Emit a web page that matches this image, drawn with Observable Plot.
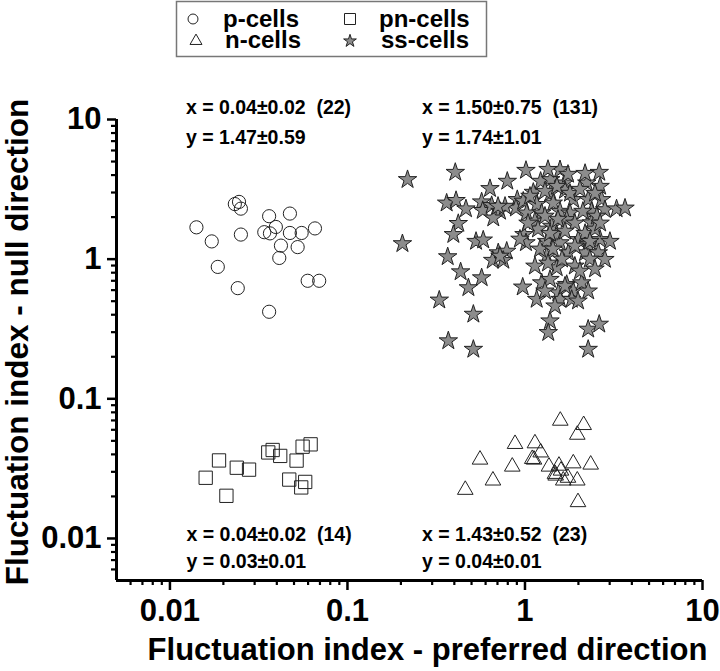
<!DOCTYPE html>
<html>
<head>
<meta charset="utf-8">
<script src="https://cdn.jsdelivr.net/npm/d3@7"></script>
<script src="https://cdn.jsdelivr.net/npm/@observablehq/plot@0.6"></script>
<style>
  body { margin: 0; background: #fff; font-family: "Liberation Sans", Arial, Helvetica, sans-serif; }
  #wrap { width: 720px; height: 671px; overflow: hidden; background: #fff; }
  #legend { width: 720px; height: 60px; display: block; }
  #chart svg { display: block; }
</style>
</head>
<body>
<div id="wrap">
  <div id="legendBox"></div>
  <div id="chart"></div>
</div>
<script>
// ---------- data ----------
const categories = ["p-cells", "pn-cells", "n-cells", "ss-cells"];
const symbols = ["circle", "square", "triangle", "star"];

const pX = [0.0141, 0.0172, 0.0186, 0.0232, 0.0245, 0.0251, 0.0251, 0.0241, 0.0362, 0.0395, 0.0340,
            0.0366, 0.0474, 0.0474, 0.0552, 0.0656, 0.0422, 0.0524, 0.0413, 0.0597, 0.0693, 0.0362];
const pY = [1.69, 1.34, 0.88, 2.48, 2.57, 2.30, 1.50, 0.62, 2.03, 1.70, 1.56,
            1.53, 2.12, 1.54, 1.54, 1.66, 1.25, 1.22, 1.02, 0.70, 0.70, 0.42];

const pnX = [0.0159, 0.0189, 0.0208, 0.0238, 0.0279, 0.0358, 0.0379, 0.0418, 0.0517, 0.0559, 0.0620,
             0.0470, 0.0549, 0.0578];
const pnY = [0.0272, 0.0362, 0.0202, 0.0321, 0.0311, 0.0413, 0.0430, 0.0390, 0.0361, 0.0454, 0.0472,
             0.0264, 0.0232, 0.0254];

const nX = [0.461, 0.558, 0.660, 0.848, 0.879, 1.124, 1.138, 1.226, 1.365, 1.476, 1.554, 1.595,
            1.643, 1.581, 1.871, 1.971, 1.971, 2.141, 2.345, 1.989, 1.747, 1.099, 1.489];
const nY = [0.0223, 0.0367, 0.0260, 0.0327, 0.0475, 0.0367, 0.0480, 0.0413, 0.0327, 0.0290, 0.0332, 0.0306,
            0.0260, 0.0697, 0.0345, 0.0260, 0.0553, 0.0649, 0.0338, 0.0182, 0.0272, 0.0371, 0.0282];

const ssX = [
  0.218, 0.405, 0.204, 0.795, 0.635, 1.013, 0.362, 0.409, 0.465, 0.570, 0.578, 0.649, 0.723, 0.663,
  0.905, 0.890, 0.421, 0.395, 0.530, 0.582, 0.987, 1.013, 0.707, 0.789, 0.658, 0.755, 0.367, 0.434,
  0.570, 0.480, 0.329, 0.971, 0.512, 0.370, 0.512,
  1.575, 2.62, 1.225, 1.396, 1.665, 2.23, 2.65, 1.114, 1.396, 1.68, 1.871, 2.27, 2.70,
  0.978, 1.164, 1.443, 1.575, 1.022, 1.242, 1.793, 2.37, 2.82, 3.28, 3.66,
  1.138, 1.414, 1.718, 2.37,
  1.325, 1.509, 1.575, 1.996, 2.27, 2.65, 3.01,
  1.754, 1.325, 2.18, 2.59, 2.82, 1.509, 1.91,
  1.242, 1.383, 1.541, 1.718, 1.871, 1.164, 1.575, 1.833, 2.085, 2.27,
  1.383, 1.353, 2.27, 2.62, 2.27,
  1.296, 1.514, 1.793, 2.04, 2.48, 1.296, 1.534, 1.91, 2.12, 2.54, 1.184, 1.383, 1.68, 2.18, 2.48,
  1.215, 1.438, 1.91, 2.32, 1.616, 1.138, 2.04, 2.48, 1.296, 1.476, 1.99, 1.067, 0.772, 0.705,
  0.723, 0.937, 1.747, 2.18, 1.348, 2.65, 2.32, 1.68, 1.348, 1.04
];
const ssY = [
  3.71, 4.18, 1.29, 3.61, 3.20, 4.32, 2.52, 2.63, 2.29, 2.57, 2.23, 2.42, 2.20, 1.97,
  2.67, 2.32, 1.80, 1.50, 1.34, 1.37, 1.50, 1.31, 1.11, 1.14, 0.98, 0.98, 1.04, 0.811,
  0.735, 0.624, 0.509, 0.631, 0.403, 0.260, 0.226,
  4.37, 4.18, 3.61, 3.71, 3.51, 3.51, 3.32, 3.01, 2.98, 3.11, 2.67, 2.67, 2.67,
  2.60, 2.46, 2.52, 2.20, 2.14, 2.14, 2.14, 2.20, 2.26, 2.29, 2.32,
  1.87, 1.72, 1.92, 1.82,
  1.34, 1.50, 1.31, 1.38, 1.27, 1.38, 1.34,
  1.11, 1.05, 1.11, 1.11, 0.995, 0.867, 0.891,
  0.677, 0.716, 0.574, 0.659, 0.591, 0.515, 0.515, 0.515, 0.677, 0.591,
  0.361, 0.298, 0.315, 0.342, 0.226,
  3.06, 3.32, 2.96, 3.16, 2.96, 2.03, 1.93, 1.81, 2.20, 2.03, 1.64, 1.53, 1.585, 1.53, 1.64,
  1.18, 1.18, 1.24, 1.0, 1.0, 0.891, 0.821, 0.849, 0.591, 0.462, 0.501, 2.82, 2.39, 2.39,
  1.05, 1.39, 4.05, 4.11, 4.39, 1.81, 1.34, 0.641, 0.936, 1.81
];

// annotation texts with their anchor (lower-left baseline) in data units
const annText = ["x = 0.04±0.02\u00a0\u00a0(22)", "y = 1.47±0.59",
                 "x = 1.50±0.75\u00a0\u00a0(131)", "y = 1.74±1.01",
                 "x = 0.04±0.02\u00a0\u00a0(14)", "y = 0.03±0.01",
                 "x = 1.43±0.52\u00a0\u00a0(23)", "y = 0.04±0.01"];
const annX = [0.0123, 0.0123, 0.263, 0.263, 0.0124, 0.0124, 0.263, 0.263];
const annY = [10.9, 6.68, 10.9, 6.68, 0.00952, 0.00611, 0.00952, 0.00611];

const xDomain = [0.005, 10];
const yDomain = [0.005, 10];
const majorTicks = [0.01, 0.1, 1, 10];
const majorLabels = ["0.01", "0.1", "1", "10"];
const minorTicks = [0.006, 0.007, 0.008, 0.009, 0.02, 0.03, 0.04, 0.05, 0.06, 0.07, 0.08, 0.09,
                    0.2, 0.3, 0.4, 0.5, 0.6, 0.7, 0.8, 0.9, 2, 3, 4, 5, 6, 7, 8, 9];
const xTitle = "Fluctuation index - preferred direction";
const yTitle = "Fluctuation index - null direction";

// ---------- build tables ----------
const seriesX = [pX, pnX, nX, ssX];
const seriesY = [pY, pnY, nY, ssY];
const groups = categories.map((name, k) => seriesX[k].map((x, i) => ({cls: name, x, y: seriesY[k][i]})));
const annotations = annText.map((t, i) => ({text: t, x: annX[i], y: annY[i]}));

const FONT = '"Liberation Sans", Arial, Helvetica, sans-serif';
const STAR_FILL = "#8c8c8c";
const fmt = d => majorLabels[majorTicks.indexOf(d)];

const chart = Plot.plot({
  width: 720,
  height: 611,
  marginTop: 59,
  marginBottom: 91,
  marginLeft: 116,
  marginRight: 18,
  style: {fontFamily: FONT, background: "#fff", color: "#000", overflow: "visible"},
  x: {type: "log", domain: xDomain},
  y: {type: "log", domain: yDomain},
  marks: [
    Plot.axisX({ticks: minorTicks, tickSize: 5, tickFormat: () => "", strokeWidth: 2.2, label: null}),
    Plot.axisY({ticks: minorTicks, tickSize: 5, tickFormat: () => "", strokeWidth: 2.2, label: null}),
    Plot.axisX({ticks: majorTicks, tickSize: 10, tickPadding: 8, tickFormat: fmt, strokeWidth: 2.5,
                fontSize: 31, fontWeight: "bold", label: null}),
    Plot.axisY({ticks: majorTicks, tickSize: 9, tickPadding: 6, tickFormat: fmt, strokeWidth: 2.5,
                fontSize: 31, fontWeight: "bold", label: null}),
    Plot.ruleX([xDomain[0]], {stroke: "#000", strokeWidth: 3}),
    Plot.ruleY([yDomain[0]], {stroke: "#000", strokeWidth: 3}),
    Plot.text([xTitle], {frameAnchor: "bottom", textAnchor: "middle", lineAnchor: "bottom", dy: 79, dx: 18,
                         fontSize: 31, fontWeight: "bold", fill: "#000"}),
    Plot.text([yTitle], {frameAnchor: "left", textAnchor: "middle", lineAnchor: "top", rotate: -90,
                         dx: -110.5, dy: -8, fontSize: 31.5, fontWeight: "bold", fill: "#000"}),
    Plot.dot(groups[0], {x: "x", y: "y", symbol: () => symbols[0], r: 6.6, stroke: "#222", strokeWidth: 1, fill: "none"}),
    Plot.dot(groups[1], {x: "x", y: "y", symbol: () => symbols[1], r: 7.5, stroke: "#222", strokeWidth: 1, fill: "none"}),
    Plot.dot(groups[2], {x: "x", y: "y", symbol: () => symbols[2], r: 5.8, stroke: "#222", strokeWidth: 1, fill: "none"}),
    Plot.dot(groups[3], {x: "x", y: "y", symbol: () => symbols[3], r: 5.8, stroke: "#222", strokeWidth: 1, fill: STAR_FILL}),
    Plot.text(annotations, {x: "x", y: "y", text: "text", textAnchor: "start", lineAnchor: "bottom",
                            fontSize: 19.5, fontWeight: "bold", fill: "#000"})
  ]
});
document.getElementById("chart").appendChild(chart);

// ---------- legend (2 x 2 grid above the plot) ----------
const lg = d3.select("#legendBox").append("svg").attr("id", "legend").attr("width", 720).attr("height", 60);
lg.append("rect").attr("x", 176.5).attr("y", 1.5).attr("width", 310).attr("height", 55)
  .attr("fill", "none").attr("stroke", "#777").attr("stroke-width", 1.5);
const legendPos = [
  {sx: 193, sy: 19, tx: 223, ty: 27, size: 78},   // p-cells
  {sx: 350, sy: 19, tx: 379, ty: 27, size: 121},  // pn-cells
  {sx: 196, sy: 41, tx: 225, ty: 48, size: 62},   // n-cells
  {sx: 350, sy: 41, tx: 381, ty: 48, size: 50}    // ss-cells
];
const d3Sym = {circle: d3.symbolCircle, square: d3.symbolSquare, triangle: d3.symbolTriangle, star: d3.symbolStar};
categories.forEach((name, k) => {
  const p = legendPos[k];
  lg.append("path")
    .attr("d", d3.symbol(d3Sym[symbols[k]], p.size)())
    .attr("transform", `translate(${p.sx},${p.sy})`)
    .attr("fill", symbols[k] === "star" ? STAR_FILL : "none")
    .attr("stroke", "#222").attr("stroke-width", 1);
  lg.append("text").attr("x", p.tx).attr("y", p.ty).text(name)
    .attr("font-family", FONT).attr("font-size", 24).attr("font-weight", "bold").attr("fill", "#000");
});
</script>
</body>
</html>
